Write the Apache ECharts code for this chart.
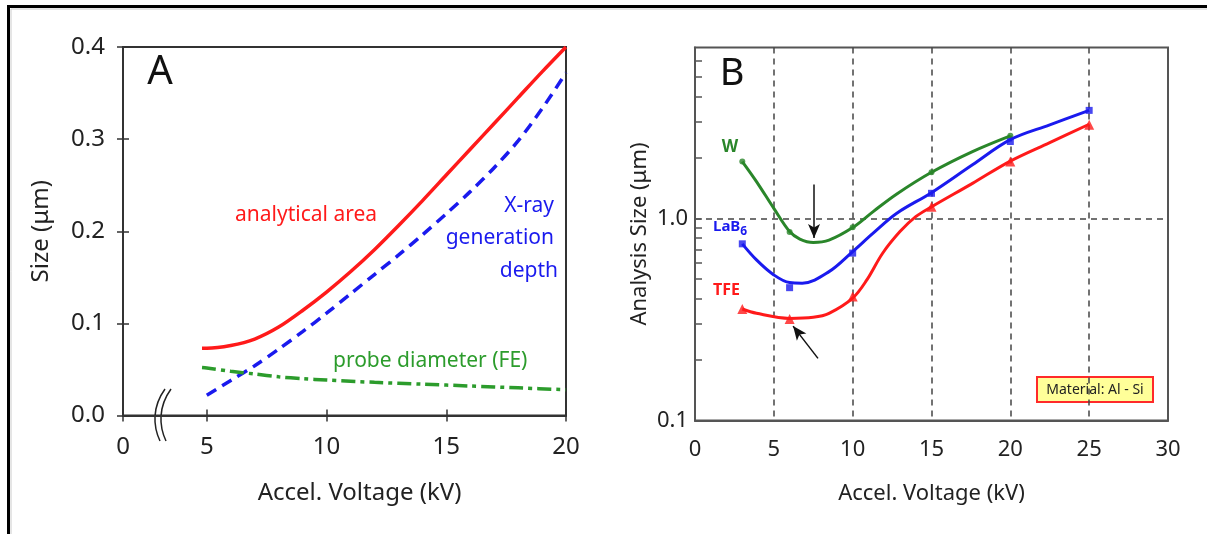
<!DOCTYPE html>
<html>
<head>
<meta charset="utf-8">
<title>Analysis size vs accel. voltage</title>
<script src="https://cdn.jsdelivr.net/npm/echarts@6/dist/echarts.min.js"></script>
<style>
  html, body { margin: 0; padding: 0; background: #fff; overflow: hidden; }
  #chart { width: 1207px; height: 534px; }
</style>
</head>
<body>
<div id="chart"></div>
<script>
// ---- panel A data ----
var aTicks = [1.5, 5, 10, 15, 20];           // 1.5 stands for the broken "0"
var areaVolt = [4.8, 5, 6, 7, 8, 9, 10, 11, 12, 13, 14, 15, 16, 17, 18, 19, 20];
var areaSize = [0.073, 0.073, 0.076, 0.083, 0.096, 0.114, 0.134, 0.156, 0.180, 0.206, 0.233, 0.261, 0.289, 0.317, 0.345, 0.373, 0.400];
var depthVolt = [5, 6, 7, 8, 9, 10, 11, 12, 13, 14, 15, 16, 17, 18, 19, 20];
var depthSize = [0.022, 0.038, 0.054, 0.072, 0.091, 0.111, 0.132, 0.153, 0.174, 0.196, 0.219, 0.243, 0.269, 0.298, 0.333, 0.372];
var probeVolt = [4.8, 5, 6, 7, 8, 9, 10, 12, 14, 16, 18, 20];
var probeSize = [0.052, 0.0515, 0.048, 0.045, 0.042, 0.040, 0.0385, 0.036, 0.034, 0.032, 0.030, 0.028];

// ---- panel B data ----
var wVolt = [3, 6, 10, 15, 20];
var wSize = [1.91, 0.855, 0.904, 1.69, 2.56];
var lab6Volt = [3, 6, 10, 15, 20, 25];
var lab6Size = [0.748, 0.454, 0.673, 1.33, 2.40, 3.42];
var tfeVolt = [3, 6, 10, 15, 20, 25];
var tfeSize = [0.356, 0.318, 0.41, 1.14, 1.91, 2.90];
// fitted curves as drawn in the figure
var wCurveVolt = [3, 3.9, 5, 6, 6.65, 7.5, 8.5, 10, 11.3, 12.8, 15, 17.6, 20];
var wCurveSize = [1.91, 1.52, 1.12, 0.86, 0.79, 0.76, 0.78, 0.90, 1.08, 1.32, 1.69, 2.14, 2.56];
var lab6CurveVolt = [3, 3.9, 5, 6, 6.8, 8.5, 10, 11.3, 12.8, 15, 17.6, 20, 22.5, 25];
var lab6CurveSize = [0.748, 0.623, 0.525, 0.481, 0.478, 0.545, 0.685, 0.845, 1.06, 1.34, 1.84, 2.45, 2.90, 3.42];
var tfeCurveVolt = [3, 3.9, 6, 7.5, 8.5, 10, 10.9, 11.9, 13, 14, 15, 17.6, 20, 22.5, 25];
var tfeCurveSize = [0.356, 0.339, 0.32, 0.324, 0.339, 0.403, 0.496, 0.672, 0.86, 1.02, 1.14, 1.49, 1.92, 2.37, 2.92];
var bMinorTicks = [0.2, 0.3, 0.4, 0.5, 0.6, 0.7, 0.8, 0.9, 1, 2, 3, 4, 5, 6];
// arrows: [from, to] in (kV, um)
var arrowDown = [[7.55, 1.47], [7.55, 0.80]];
var arrowDiag = [[7.8, 0.203], [6.22, 0.293]];

function pairs(xs, ys) {
  return xs.map(function (x, i) { return [x, ys[i]]; });
}

var FONT = '"Noto Sans", "Open Sans", sans-serif';
var INK = '#222';
var RED = '#ff1a1a', BLUE = '#1a1aee', GREEN_A = '#2c9c2c', GREEN_B = '#2a862a';

var chart = echarts.init(document.getElementById('chart'));

var option = {
  animation: false,
  backgroundColor: '#fff',
  grid: [
    { left: 123, top: 47, width: 443, height: 368.5, show: true, borderColor: '#333', borderWidth: 2, backgroundColor: 'transparent' },
    { left: 695, top: 47.5, width: 473, height: 373, show: true, borderColor: '#555', borderWidth: 2, backgroundColor: 'transparent' }
  ],
  xAxis: [
    {
      gridIndex: 0, type: 'value', min: 1.5, max: 20,
      name: 'Accel. Voltage (kV)', nameLocation: 'middle', nameGap: 66,
      nameTextStyle: { fontSize: 24, fontFamily: FONT, color: INK, padding: [0, 0, 0, 30] },
      axisLine: { onZero: false, lineStyle: { color: '#333', width: 2 } },
      axisTick: { customValues: aTicks, length: 6, lineStyle: { color: '#333', width: 1.5 } },
      axisLabel: {
        customValues: aTicks, margin: 20, fontSize: 24, fontFamily: FONT, color: INK,
        formatter: function (v) { return v === 1.5 ? '0' : String(v); }
      },
      splitLine: { show: false }
    },
    {
      gridIndex: 0, type: 'value', min: 1.5, max: 20, position: 'bottom',
      axisLine: { show: false, onZero: false },
      axisTick: { customValues: aTicks, inside: true, length: 6, lineStyle: { color: '#333', width: 1.5 } },
      axisLabel: { show: false }, splitLine: { show: false }
    },
    {
      gridIndex: 1, type: 'value', min: 0, max: 30, interval: 5,
      name: 'Accel. Voltage (kV)', nameLocation: 'middle', nameGap: 62,
      nameTextStyle: { fontSize: 22, fontFamily: FONT, color: INK },
      axisLine: { onZero: false, lineStyle: { color: '#555', width: 2 } },
      axisTick: { show: false },
      axisLabel: { margin: 18, fontSize: 22, fontFamily: FONT, color: INK },
      splitLine: { show: true, showMinLine: false, showMaxLine: false, lineStyle: { color: '#444', width: 1.5, type: [6, 5] } }
    }
  ],
  yAxis: [
    {
      gridIndex: 0, type: 'value', min: 0, max: 0.4, interval: 0.1, position: 'left',
      name: 'Size (\u03bcm)', nameLocation: 'middle', nameGap: 70,
      nameTextStyle: { fontSize: 24, fontFamily: FONT, color: INK },
      axisLine: { onZero: false, lineStyle: { color: '#333', width: 2 } },
      axisTick: { length: 6, lineStyle: { color: '#333', width: 1.5 } },
      axisLabel: { margin: 18, fontSize: 24, fontFamily: FONT, color: INK, formatter: function (v) { return v.toFixed(1); } },
      splitLine: { show: false }
    },
    {
      gridIndex: 0, type: 'value', min: 0, max: 0.4, interval: 0.1, position: 'left',
      axisLine: { show: false, onZero: false },
      axisTick: { inside: true, length: 6, lineStyle: { color: '#333', width: 1.5 } },
      axisLabel: { show: false }, splitLine: { show: false }
    },
    {
      gridIndex: 1, type: 'log', logBase: 10, min: 0.1, max: 7, position: 'left',
      name: 'Analysis Size (\u03bcm)', nameLocation: 'middle', nameGap: 44,
      nameTextStyle: { fontSize: 22, fontFamily: FONT, color: INK },
      axisLine: { onZero: false, lineStyle: { color: '#555', width: 2 } },
      axisTick: { show: false },
      axisLabel: {
        margin: 7, fontSize: 22, fontFamily: FONT, color: INK,
        formatter: function (v) {
          if (Math.abs(v - 1) < 1e-6) return '1.0';
          if (Math.abs(v - 0.1) < 1e-6) return '0.1';
          return '';
        }
      },
      splitLine: { show: true, showMinLine: false, showMaxLine: false, lineStyle: { color: '#444', width: 1.5, type: [6, 5] } }
    },
    {
      gridIndex: 1, type: 'log', logBase: 10, min: 0.1, max: 7, position: 'left',
      axisLine: { show: false, onZero: false },
      axisTick: { customValues: bMinorTicks, inside: true, length: 7, lineStyle: { color: '#555', width: 1.5 } },
      axisLabel: { show: false }, splitLine: { show: false }
    }
  ],
  series: [
    {
      name: 'analytical area', type: 'line', xAxisIndex: 0, yAxisIndex: 0, smooth: 0.3,
      data: pairs(areaVolt, areaSize), showSymbol: false,
      lineStyle: { color: RED, width: 3.5 }
    },
    {
      name: 'X-ray generation depth', type: 'line', xAxisIndex: 0, yAxisIndex: 0, smooth: 0.3,
      data: pairs(depthVolt, depthSize), showSymbol: false,
      lineStyle: { color: BLUE, width: 3.5, type: [11, 7] }
    },
    {
      name: 'probe diameter (FE)', type: 'line', xAxisIndex: 0, yAxisIndex: 0, smooth: 0.3,
      data: pairs(probeVolt, probeSize), showSymbol: false,
      lineStyle: { color: GREEN_A, width: 3.5, type: [14, 5, 4, 5] }
    },
    // panel B curves
    {
      name: 'W', type: 'line', xAxisIndex: 2, yAxisIndex: 2, smooth: 0.35,
      data: pairs(wCurveVolt, wCurveSize), showSymbol: false,
      lineStyle: { color: GREEN_B, width: 3 }
    },
    {
      name: 'LaB6', type: 'line', xAxisIndex: 2, yAxisIndex: 2, smooth: 0.35,
      data: pairs(lab6CurveVolt, lab6CurveSize), showSymbol: false,
      lineStyle: { color: BLUE, width: 3 }
    },
    {
      name: 'TFE', type: 'line', xAxisIndex: 2, yAxisIndex: 2, smooth: 0.35,
      data: pairs(tfeCurveVolt, tfeCurveSize), showSymbol: false,
      lineStyle: { color: RED, width: 3 },
      markLine: {
        silent: true, symbol: ['none', 'arrow'], symbolSize: [9, 14],
        label: { show: false },
        lineStyle: { color: '#111', width: 1.5, type: 'solid' },
        data: [
          [{ coord: arrowDown[0] }, { coord: arrowDown[1] }],
          [{ coord: arrowDiag[0] }, { coord: arrowDiag[1] }]
        ]
      }
    },
    // panel B markers
    {
      type: 'scatter', xAxisIndex: 2, yAxisIndex: 2, symbol: 'circle', symbolSize: 6,
      data: pairs(wVolt, wSize), itemStyle: { color: GREEN_B }
    },
    {
      type: 'scatter', xAxisIndex: 2, yAxisIndex: 2, symbol: 'rect', symbolSize: 7,
      data: pairs(lab6Volt, lab6Size), itemStyle: { color: BLUE }
    },
    {
      type: 'scatter', xAxisIndex: 2, yAxisIndex: 2, symbol: 'triangle', symbolSize: 10,
      data: pairs(tfeVolt, tfeSize), itemStyle: { color: RED }
    }
  ],
  graphic: [
    // outer figure frame (top and left edges only)
    { type: 'polyline', shape: { points: [[8.5, 534], [8.5, 6.5], [1207, 6.5]] }, style: { stroke: '#000', lineWidth: 3, fill: null } },
    { type: 'polyline', shape: { points: [[11, 534], [11, 9], [1207, 9]] }, style: { stroke: '#ccc', lineWidth: 1, fill: null } },
    // axis break mark in panel A
    { type: 'bezierCurve', shape: { x1: 165, y1: 389, cpx1: 152, cpy1: 407, cpx2: 153, cpy2: 426, x2: 160, y2: 441 }, style: { stroke: '#222', lineWidth: 1.5, fill: null } },
    { type: 'bezierCurve', shape: { x1: 171, y1: 389, cpx1: 158, cpy1: 407, cpx2: 159, cpy2: 426, x2: 166, y2: 441 }, style: { stroke: '#222', lineWidth: 1.5, fill: null } },
    // panel letters
    { type: 'text', x: 160, y: 73, style: { text: 'A', fontSize: 40, fontFamily: FONT, fill: '#111', align: 'center', verticalAlign: 'middle' } },
    { type: 'text', x: 732, y: 74, style: { text: 'B', fontSize: 38, fontFamily: FONT, fill: '#111', align: 'center', verticalAlign: 'middle' } },
    // panel A curve labels
    { type: 'text', x: 235, y: 215, style: { text: 'analytical area', fontSize: 21, fontFamily: FONT, fill: RED, align: 'left', verticalAlign: 'middle' } },
    { type: 'text', x: 554, y: 206, style: { text: 'X-ray', fontSize: 21, fontFamily: FONT, fill: BLUE, align: 'right', verticalAlign: 'middle' } },
    { type: 'text', x: 554, y: 238, style: { text: 'generation', fontSize: 21, fontFamily: FONT, fill: BLUE, align: 'right', verticalAlign: 'middle' } },
    { type: 'text', x: 558, y: 271, style: { text: 'depth', fontSize: 21, fontFamily: FONT, fill: BLUE, align: 'right', verticalAlign: 'middle' } },
    { type: 'text', x: 333, y: 361, style: { text: 'probe diameter (FE)', fontSize: 21, fontFamily: FONT, fill: GREEN_A, align: 'left', verticalAlign: 'middle' } },
    // panel B curve labels
    { type: 'text', x: 730, y: 147, style: { text: 'W', fontSize: 17, fontWeight: 'bold', fontFamily: FONT, fill: GREEN_B, align: 'center', verticalAlign: 'middle' } },
    {
      type: 'text', x: 713, y: 227,
      style: {
        text: '{a|LaB}{s|6}', fontFamily: FONT, fill: BLUE, align: 'left', verticalAlign: 'middle',
        rich: {
          a: { fontSize: 15, fontWeight: 'bold', fontFamily: FONT, fill: BLUE },
          s: { fontSize: 12, fontWeight: 'bold', fontFamily: FONT, fill: BLUE, padding: [10, 0, 0, 0] }
        }
      }
    },
    { type: 'text', x: 713, y: 290, style: { text: 'TFE', fontSize: 16, fontWeight: 'bold', fontFamily: FONT, fill: RED, align: 'left', verticalAlign: 'middle' } },
    // material note
    { type: 'rect', shape: { x: 1037, y: 377, width: 116, height: 25 }, style: { fill: '#ffff99', stroke: '#ff2a2a', lineWidth: 2 } },
    { type: 'text', x: 1095, y: 390, style: { text: 'Material: Al - Si', fontSize: 14, fontFamily: FONT, fill: '#222', align: 'center', verticalAlign: 'middle' } }
  ]
};

chart.setOption(option);
</script>
</body>
</html>
